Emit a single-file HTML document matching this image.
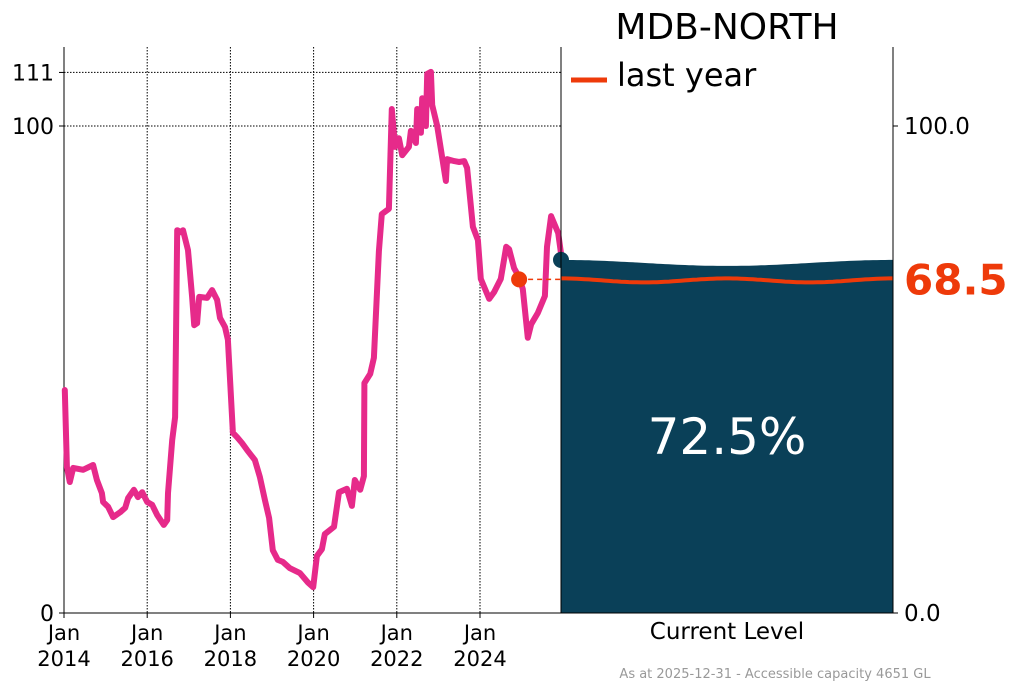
<!DOCTYPE html>
<html><head><meta charset="utf-8"><style>
body{margin:0;background:#fff;}
svg text{font-family:"DejaVu Sans","Liberation Sans",sans-serif;}
</style></head><body>
<svg id="chart" width="1024" height="691" viewBox="0 0 1024 691" xmlns="http://www.w3.org/2000/svg">
<g id="grid"></g><g id="axes"></g><g id="series"></g><g id="panel"></g>
</svg>
<script>
const years=[2014.02,2014.07,2014.14,2014.22,2014.46,2014.70,2014.79,2014.91,2014.94,2015.06,2015.18,2015.35,2015.47,2015.54,2015.68,2015.78,2015.88,2016.00,2016.12,2016.24,2016.40,2016.48,2016.50,2016.60,2016.67,2016.72,2016.81,2016.86,2016.98,2017.08,2017.13,2017.20,2017.25,2017.44,2017.56,2017.68,2017.75,2017.87,2017.94,2018.06,2018.16,2018.28,2018.40,2018.59,2018.71,2018.83,2018.93,2019.02,2019.14,2019.26,2019.43,2019.67,2019.87,2019.99,2020.08,2020.20,2020.27,2020.49,2020.61,2020.80,2020.92,2020.99,2021.12,2021.21,2021.22,2021.36,2021.45,2021.57,2021.64,2021.81,2021.88,2021.96,2022.05,2022.13,2022.29,2022.34,2022.46,2022.49,2022.58,2022.61,2022.70,2022.73,2022.82,2022.85,2022.97,2023.18,2023.21,2023.38,2023.50,2023.62,2023.69,2023.83,2023.95,2024.02,2024.22,2024.34,2024.50,2024.63,2024.70,2024.82,2024.94,2025.03,2025.15,2025.23,2025.39,2025.56,2025.61,2025.71,2025.88,2025.95,2026.0];
const levels=[45.8,30.0,26.9,29.8,29.4,30.4,27.3,24.6,22.8,21.8,19.7,20.7,21.6,23.6,25.3,23.8,24.8,22.8,22.2,20.1,18.1,19.1,24.6,35.5,40.2,78.6,78.2,78.6,74.5,64.9,59.1,59.5,64.9,64.7,66.3,64.3,60.6,58.7,56.1,37.0,36.1,34.9,33.5,31.4,27.9,23.2,19.5,12.9,10.9,10.5,9.2,8.2,6.2,5.3,11.7,13.1,16.2,17.7,24.8,25.5,22.0,27.3,25.3,28.1,47.2,49.1,52.4,74.3,81.9,83.0,103.5,95.7,97.5,94.0,95.7,99.0,96.5,103.5,98.6,105.7,100.0,110.7,111.1,104.3,100.0,88.7,93.2,92.8,92.6,92.8,91.4,79.3,76.6,68.6,64.5,65.9,68.6,75.2,74.7,70.8,69.0,66.5,56.5,59.3,61.6,65.1,75.2,81.5,78.0,73.7,72.5];
const lastYearDate=[2024.94];
const lastYearValue=[68.5];
const currentValue=[72.5];
const yTicksLeft=[0,100,111];
const yTicksRight=[0,100];
const xTickYears=[2014,2016,2018,2020,2022,2024];

const NS="http://www.w3.org/2000/svg";
const X0=64,X1=561,Y0=613,PX=4.87,PY=41.6,R0=561,R1=893;
const sx=d=>X0+(d-2014)*PY;
const sy=v=>Y0-v*PX;
function mk(tag,attrs,parent,txt){const e=document.createElementNS(NS,tag);for(const k in attrs)e.setAttribute(k,attrs[k]);if(txt!==undefined)e.textContent=txt;parent.appendChild(e);return e;}
const grid=document.getElementById('grid'),axes=document.getElementById('axes'),series=document.getElementById('series'),panel=document.getElementById('panel');

yTicksLeft.filter(v=>v>0).forEach(v=>{
  const l=mk('line',{x1:X0,x2:X1,y1:sy(v),y2:sy(v),stroke:'#000','stroke-width':1,'stroke-dasharray':'1.5,1.5'},grid);
  
  
});
xTickYears.forEach(y=>{
  const l=mk('line',{x1:sx(y),x2:sx(y),y1:47,y2:Y0,stroke:'#000','stroke-width':1,'stroke-dasharray':'1.5,1.5'},grid);
  
  
});

const la=mk('line',{x1:X0,x2:X0,y1:47,y2:Y0,stroke:'#000','stroke-width':1},axes);


const ba=mk('line',{x1:X0,x2:X1,y1:Y0,y2:Y0,stroke:'#000','stroke-width':1},axes);


yTicksLeft.forEach(v=>{
  mk('line',{x1:X0-5,x2:X0,y1:sy(v),y2:sy(v),stroke:'#000'},axes);
  const t=mk('text',{x:X0-10,y:sy(v)+8,'text-anchor':'end','font-size':22},axes,String(v));
  
  
});
xTickYears.forEach(y=>{
  mk('line',{x1:sx(y),x2:sx(y),y1:Y0,y2:Y0+5,stroke:'#000'},axes);
  const t=mk('text',{x:sx(y),y:640,'text-anchor':'middle','font-size':21},axes);
  
  
  mk('tspan',{x:sx(y),dy:0},t,'Jan');
  mk('tspan',{x:sx(y),dy:26},t,String(y));
});

let d='';years.forEach((y,i)=>{d+=(i?'L':'M')+sx(y).toFixed(1)+','+sy(levels[i]).toFixed(1);});
const line=mk('path',{d:d,fill:'none',stroke:'#e62a8a','stroke-width':6,'stroke-linejoin':'round','stroke-linecap':'round'},series);



const curY=sy(currentValue[0]),lyY=sy(lastYearValue[0]);
const cd=mk('circle',{cx:R0,cy:curY,r:8,fill:'#0a4058'},panel);


let w='M'+R0+','+Y0+' L'+R0+','+curY;
for(let x=R0;x<=R1;x+=4){w+=' L'+x+','+(curY+3*(1-Math.cos(2*Math.PI*(x-R0)/(R1-R0)))).toFixed(1);}
w+=' L'+R1+','+Y0+'Z';
const water=mk('path',{d:w,fill:'#0a4058'},panel);


let r='';
for(let x=R0;x<=R1;x+=4){r+=(x===R0?'M':' L')+x+','+(lyY+2*(1-Math.cos(2*Math.PI*(x-R0)/(R1-R0)*2))-1).toFixed(1);}
const ly=mk('path',{d:r,fill:'none',stroke:'#ee3a0a','stroke-width':4},panel);


const dash=mk('line',{x1:sx(lastYearDate[0]),x2:R0,y1:lyY,y2:lyY,stroke:'#ee3a0a','stroke-width':1.5,'stroke-dasharray':'5,4'},panel);


const lyDot=mk('circle',{cx:sx(lastYearDate[0]),cy:lyY,r:8,fill:'#ee3a0a'},panel);


mk('line',{x1:R0,x2:R0,y1:47,y2:Y0,stroke:'#000'},panel);
mk('line',{x1:R1,x2:R1,y1:47,y2:Y0,stroke:'#000'},panel);
mk('line',{x1:R0,x2:R1,y1:Y0,y2:Y0,stroke:'#000'},panel);
yTicksRight.forEach(v=>{
  mk('line',{x1:R1,x2:R1+5,y1:sy(v),y2:sy(v),stroke:'#000'},panel);
  const t=mk('text',{x:R1+11,y:sy(v)+8,'font-size':23},panel,v.toFixed(1));
  
  
});
const lv=mk('text',{x:904,y:lyY+15,'font-size':42,'font-weight':'bold',fill:'#ee3a0a'},panel,lastYearValue[0].toFixed(1));


const pv=mk('text',{x:(R0+R1)/2,y:454,'text-anchor':'middle','font-size':50,fill:'#fff'},panel,currentValue[0].toFixed(1)+'%');


const cl=mk('text',{x:(R0+R1)/2,y:639,'text-anchor':'middle','font-size':23},panel,'Current Level');


const ti=mk('text',{x:727,y:39,'text-anchor':'middle','font-size':36},panel,'MDB-NORTH');


const lgl=mk('line',{x1:571,x2:607,y1:80,y2:80,stroke:'#ee3a0a','stroke-width':5},panel);


const lgt=mk('text',{x:617,y:86,'font-size':32},panel,'last year');


const ft=mk('text',{x:775,y:678,'text-anchor':'middle','font-size':13,fill:'#999'},panel,'As at 2025-12-31 - Accessible capacity 4651 GL');


</script>
</body></html>
